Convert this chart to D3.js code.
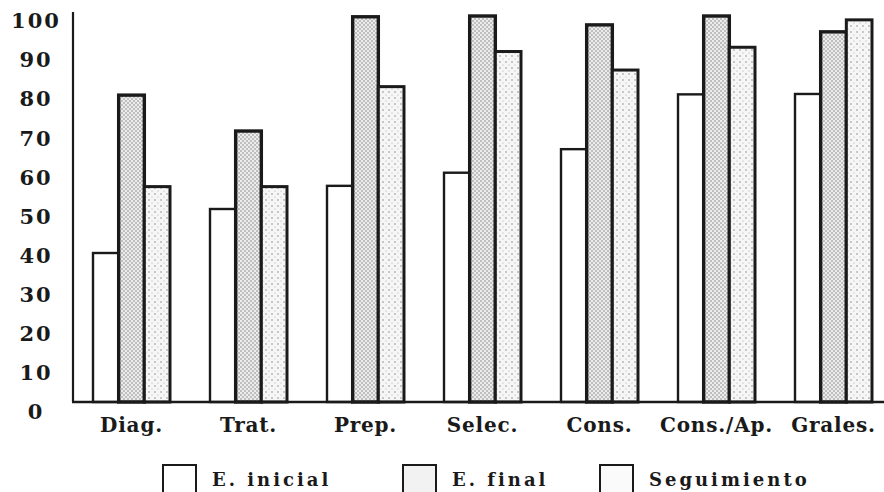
<!DOCTYPE html>
<html>
<head>
<meta charset="utf-8">
<script src="https://cdn.jsdelivr.net/npm/d3@7/dist/d3.min.js"></script>
<style>
  html, body { margin: 0; padding: 0; background: #fff; }
  svg { display: block; }
</style>
</head>
<body>
<svg id="chart" width="884" height="492"></svg>
<script>
// ---- data ----
const categories = ["Diag.", "Trat.", "Prep.", "Selec.", "Cons.", "Cons./Ap.", "Grales."];
const series = ["E. inicial", "E. final", "Seguimiento"];
const eInicial    = [38.6, 50.0, 56.0, 59.4, 65.5, 79.7, 79.8];
const eFinal      = [79.5, 70.2, 99.8, 100, 97.7, 100, 95.9];
const seguimiento = [55.8, 55.8, 81.7, 90.8, 86.0, 91.9, 99.0];
const yTicks = [0, 10, 20, 30, 40, 50, 60, 70, 80, 90, 100];

const seriesValues = [eInicial, eFinal, seguimiento];
const table = categories.map((c, i) => ({
  cat: c,
  vals: series.map((s, j) => ({ key: s, idx: j, v: seriesValues[j][i] }))
}));

// ---- layout ----
const svg = d3.select("#chart");
const W = 884, H = 492;
const axisX = 73, baseY = 402, topY = 16;

const defs = svg.append("defs");
// E. final: dense stipple
const p1 = defs.append("pattern").attr("id", "patFinal")
  .attr("width", 4).attr("height", 4).attr("patternUnits", "userSpaceOnUse");
p1.append("rect").attr("width", 4).attr("height", 4).attr("fill", "#ececec");
p1.append("circle").attr("cx", 1).attr("cy", 1).attr("r", 0.8).attr("fill", "#858585");
p1.append("circle").attr("cx", 3).attr("cy", 3).attr("r", 0.8).attr("fill", "#858585");
// Seguimiento: sparse stipple
const p2 = defs.append("pattern").attr("id", "patSeg")
  .attr("width", 6).attr("height", 6).attr("patternUnits", "userSpaceOnUse");
p2.append("rect").attr("width", 6).attr("height", 6).attr("fill", "#f6f6f6");
p2.append("circle").attr("cx", 2).attr("cy", 2).attr("r", 0.75).attr("fill", "#808080");
p2.append("circle").attr("cx", 5).attr("cy", 5).attr("r", 0.55).attr("fill", "#a8a8a8");

const fills = ["#ffffff", "url(#patFinal)", "url(#patSeg)"];
const strokeW = [2.4, 3.4, 3.0];

const y = d3.scaleLinear().domain([0, 100]).range([baseY, topY]);
const yLab = d3.scaleLinear().domain([0, 100]).range([412, 21]);

const x0 = d3.scaleBand().domain(categories).range([axisX, 892])
  .paddingInner(0.342).paddingOuter(0.171);
const x1 = d3.scaleBand().domain(series).range([0, x0.bandwidth()]);

// bars
const groups = svg.append("g").selectAll("g").data(table).join("g")
  .attr("transform", d => `translate(${x0(d.cat)},0)`);

groups.selectAll("rect").data(d => d.vals).join("rect")
  .attr("x", d => x1(d.key))
  .attr("y", d => y(d.v))
  .attr("width", x1.bandwidth())
  .attr("height", d => y(0) - y(d.v))
  .attr("fill", d => fills[d.idx])
  .attr("stroke", "#1a1a1a")
  .attr("stroke-width", d => strokeW[d.idx]);

// axis lines
svg.append("line").attr("x1", axisX).attr("x2", axisX)
  .attr("y1", y(0)).attr("y2", y(100) - 4)
  .attr("stroke", "#1a1a1a").attr("stroke-width", 2.2);
svg.append("line").attr("x1", axisX - 1).attr("x2", W)
  .attr("y1", baseY).attr("y2", baseY)
  .attr("stroke", "#1a1a1a").attr("stroke-width", 2.6);

// y tick labels
const yAxis = d3.axisLeft(yLab).tickValues(yTicks).tickSize(0).tickFormat(d3.format("d"));
const ya = svg.append("g").attr("transform", "translate(36,0)").call(yAxis);
ya.select(".domain").remove();
ya.selectAll("text")
  .attr("x", 0)
  .attr("text-anchor", "middle")
  .attr("fill", "#1a1a1a")
  .style("font-family", "'DejaVu Serif', serif")
  .style("font-weight", "bold")
  .style("font-size", "21px")
  .style("letter-spacing", "2px");

// x category labels
const xAxis = d3.axisBottom(x0).tickSize(0);
const xa = svg.append("g").attr("transform", `translate(0,${baseY})`).call(xAxis);
xa.select(".domain").remove();
xa.selectAll("text")
  .attr("y", 30)
  .attr("dy", 0)
  .attr("fill", "#1a1a1a")
  .style("font-family", "'DejaVu Serif', serif")
  .style("font-weight", "bold")
  .style("font-size", "20px")
  .style("letter-spacing", "0.8px");

// legend
const legX = [163, 403, 600];
const leg = svg.append("g").selectAll("g").data(series).join("g")
  .attr("transform", (d, i) => `translate(${legX[i]},465)`);
leg.append("rect")
  .attr("x", 0).attr("y", 0).attr("width", 33).attr("height", 30)
  .attr("fill", (d, i) => i === 0 ? "#fff" : (i === 1 ? "#f2f2f2" : "#fafafa"))
  .attr("stroke", "#1a1a1a").attr("stroke-width", 2);
leg.append("text")
  .attr("x", 49).attr("y", 21)
  .text(d => d)
  .attr("fill", "#1a1a1a")
  .style("font-family", "'DejaVu Serif', serif")
  .style("font-weight", "bold")
  .style("font-size", "18px")
  .style("letter-spacing", "3px");
</script>
</body>
</html>
